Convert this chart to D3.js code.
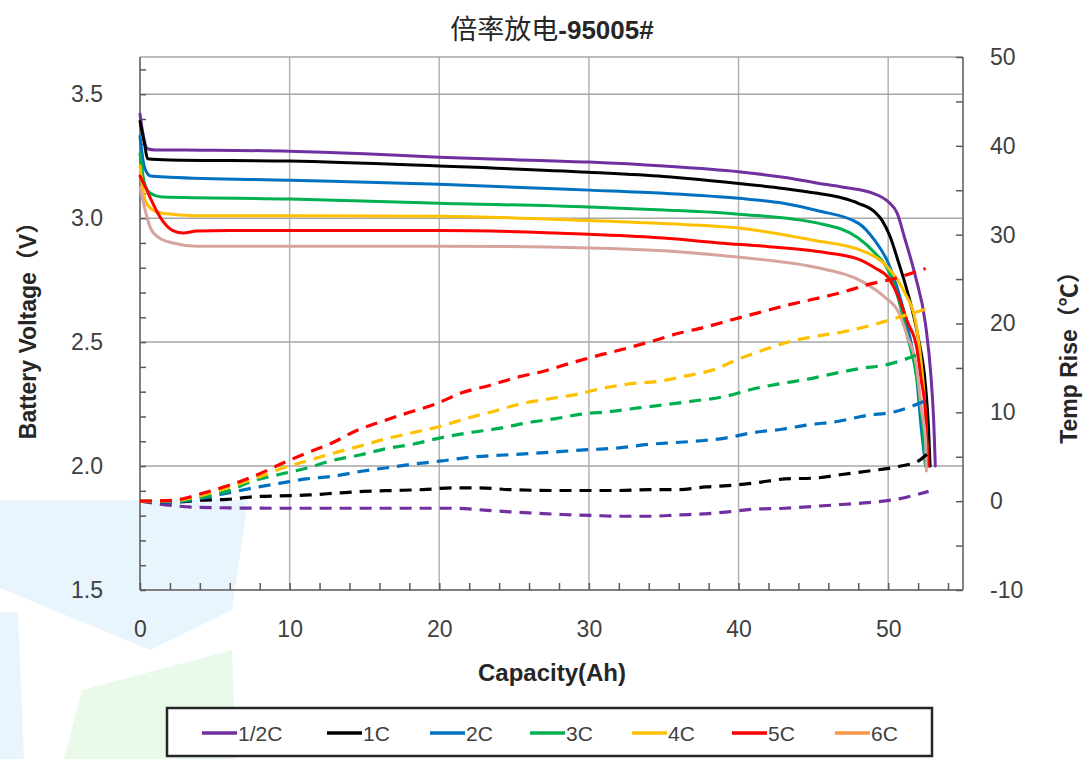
<!DOCTYPE html>
<html><head><meta charset="utf-8">
<script src="https://cdn.jsdelivr.net/npm/d3@7"></script>
<style>
body{margin:0;background:#fff}
svg{display:block}
text{font-family:"Liberation Sans","Noto Sans CJK SC",sans-serif}
</style>
</head><body>
<svg id="chart" width="1087" height="759"></svg>
<script>
// ---------- data ----------
const seriesNames = ["1/2C","1C","2C","3C","4C","5C","6C"];
const lineColors   = ["#7030A0","#000000","#0070C0","#00B050","#FFC000","#FF0000","#D8A39E"];
const legendColors = ["#7030A0","#000000","#0070C0","#00B050","#FFC000","#FF0000","#F79646"];
const xTicks = [0,10,20,30,40,50];
const vTicks = [1.5,2.0,2.5,3.0,3.5];
const tTicks = [-10,0,10,20,30,40,50];

// voltage curves [capacity Ah, voltage V]
const volt_05C = [[0,3.42],[0.2,3.34],[0.5,3.28],[1,3.275],[5,3.274],[10,3.27],[15,3.26],[20,3.246],[25,3.236],[30,3.226],[35,3.21],[40,3.187],[43,3.165],[45.3,3.141],[47,3.125],[49,3.10],[50,3.066],[50.6,3.02],[51.1,2.92],[51.8,2.77],[52.5,2.57],[52.85,2.37],[53.05,2.17],[53.15,2.0]];
const volt_1C  = [[0,3.39],[0.3,3.30],[0.5,3.24],[2,3.235],[10,3.23],[20,3.21],[30,3.185],[35,3.168],[40,3.14],[43,3.12],[45.3,3.10],[47,3.08],[48,3.06],[49.1,3.025],[49.6,2.99],[50.1,2.93],[50.7,2.82],[51.3,2.70],[52,2.52],[52.5,2.32],[52.7,2.15],[52.8,2.0]];
const volt_2C  = [[0,3.33],[0.3,3.205],[0.7,3.17],[2,3.165],[10,3.153],[20,3.137],[30,3.113],[35,3.10],[40,3.08],[43,3.06],[45.3,3.03],[48,2.98],[49.1,2.91],[50,2.82],[50.7,2.70],[51.3,2.56],[51.9,2.36],[52.2,2.16],[52.5,2.0]];
const volt_3C  = [[0,3.26],[0.3,3.14],[0.7,3.10],[1.5,3.085],[10,3.077],[20,3.06],[30,3.045],[35,3.033],[40,3.016],[45.3,2.98],[48,2.92],[49.1,2.86],[50,2.79],[50.7,2.67],[51.3,2.52],[51.9,2.36],[52.3,2.16],[52.5,2.0]];
const volt_4C  = [[0,3.21],[0.3,3.08],[0.7,3.04],[1.5,3.02],[3.8,3.01],[10,3.01],[20,3.008],[30,2.99],[35,2.978],[40,2.96],[45.1,2.91],[48.2,2.87],[50,2.80],[51.1,2.70],[51.8,2.59],[52.2,2.42],[52.5,2.20],[52.65,2.0]];
const volt_5C  = [[0,3.17],[0.4,3.12],[0.7,3.08],[1.1,3.03],[1.5,2.99],[2.2,2.95],[2.9,2.94],[3.8,2.948],[6,2.95],[10,2.95],[20,2.95],[30,2.935],[35,2.92],[38.7,2.90],[42,2.885],[45.3,2.865],[48,2.835],[49.1,2.80],[50,2.76],[50.7,2.68],[51.3,2.58],[51.9,2.48],[52.2,2.35],[52.5,2.21],[52.6,2.08],[52.7,2.0]];
const volt_6C  = [[0,3.125],[0.2,3.07],[0.7,2.96],[1.3,2.92],[2.2,2.90],[3.8,2.887],[10,2.887],[20,2.887],[30,2.88],[35,2.868],[38.7,2.85],[42,2.83],[45.3,2.80],[48.4,2.74],[49.8,2.68],[50.7,2.62],[51.3,2.52],[51.9,2.40],[52.2,2.24],[52.5,2.10],[52.55,1.98]];

// temperature rise curves [capacity Ah, °C]
const temp_05C = [[0,0],[2.2,-0.5],[4,-0.7],[9.3,-0.8],[13,-0.8],[19,-0.8],[21,-0.8],[23,-1.0],[24.7,-1.2],[26.4,-1.35],[28.2,-1.5],[30.2,-1.6],[32,-1.7],[34,-1.7],[36,-1.55],[38,-1.4],[39.3,-1.2],[41.1,-0.9],[43.1,-0.8],[44.9,-0.6],[46.7,-0.4],[48.4,-0.2],[50.5,0.2],[52.7,1.1]];
const temp_1C  = [[0,0],[2.2,-0.1],[4,0.1],[5.8,0.2],[7.6,0.5],[9.3,0.6],[11.3,0.7],[13.1,0.9],[14.9,1.1],[16.9,1.2],[18.9,1.3],[20.9,1.5],[22.7,1.5],[24.7,1.3],[28,1.2],[32,1.2],[34,1.3],[36,1.3],[37.8,1.6],[39.3,1.75],[41.3,2.1],[43.1,2.5],[45.1,2.6],[46.9,3.0],[48.7,3.4],[50.7,3.9],[52,4.5],[52.6,5.3]];
const temp_2C  = [[0,0],[2.2,-0.1],[4,0.3],[5.8,0.9],[7.6,1.5],[9.3,2.0],[11.1,2.5],[12.9,2.8],[14.9,3.4],[16.7,3.8],[18.4,4.2],[20,4.5],[22.4,5.0],[24.4,5.2],[26.4,5.4],[28.2,5.6],[30,5.8],[32,6.0],[34,6.4],[35.8,6.6],[37.5,6.8],[39.1,7.1],[40.9,7.7],[42.9,8.1],[44.7,8.6],[46.7,9.0],[48.4,9.6],[50.5,10.1],[52.5,11.3]];
const temp_3C  = [[0,0],[2.2,0],[4,0.4],[5.8,1.1],[7.6,2.3],[9.3,3.0],[11.1,3.7],[12.9,4.6],[14.7,5.2],[16.4,5.9],[18.2,6.4],[20,7.1],[22,7.7],[24,8.2],[25.8,8.8],[27.8,9.3],[29.5,9.8],[31.5,10.1],[33.3,10.5],[35.3,10.9],[37.1,11.3],[39,11.75],[40.9,12.6],[42.7,13.2],[44.5,13.7],[46.2,14.3],[48,14.9],[50,15.4],[52,16.5]];
const temp_4C  = [[0,0],[2.2,0.05],[4,0.6],[5.8,1.5],[7.6,2.5],[9.3,3.6],[11.1,4.5],[12.9,5.4],[14.7,6.2],[16.4,7.0],[18.2,7.7],[20,8.4],[21.8,9.3],[23.6,10.1],[25.3,10.9],[27.3,11.5],[29.1,12.0],[30.9,12.7],[32.7,13.2],[34.7,13.5],[36.5,14.1],[38.5,14.9],[40,16.0],[41.8,17.1],[43.5,18.0],[45.3,18.6],[47.1,19.1],[49.1,19.9],[50.9,20.8],[52.5,21.6]];
const temp_5C  = [[0,0],[2.2,0.1],[4,0.8],[5.8,1.7],[7.6,2.8],[9.3,4.1],[11.1,5.4],[12.9,6.6],[14.4,7.9],[16.2,9.0],[18,10.0],[19.7,10.9],[21.5,12.2],[23.3,13.0],[25.1,13.9],[26.9,14.6],[28.9,15.6],[30.4,16.3],[32.5,17.2],[34.2,18.0],[36,18.9],[37.8,19.6],[39.3,20.3],[41.3,21.2],[43.1,22.0],[44.9,22.7],[46.7,23.4],[48.7,24.4],[50.5,25.1],[52.5,26.2]];

const voltSeries = [volt_05C,volt_1C,volt_2C,volt_3C,volt_4C,volt_5C,volt_6C];
const tempSeries = [temp_05C,temp_1C,temp_2C,temp_3C,temp_4C,temp_5C];

// ---------- layout ----------
const L = 140, R = 963, T = 57, B = 590;
const svg = d3.select("#chart");
const x  = d3.scaleLinear().domain([0,55]).range([L,R]);
const yV = d3.scaleLinear().domain([1.5,3.65]).range([B,T]);
const yT = d3.scaleLinear().domain([-10,50]).range([B,T]);

// faint background watermark shapes
svg.append("polygon").attr("points","0,500 248,500 232,610 150,650 0,588").attr("fill","#e8f5fc");
svg.append("polygon").attr("points","0,612 18,612 24,759 0,759").attr("fill","#e8f5fc");
svg.append("polygon").attr("points","82,690 232,650 236,759 64,759").attr("fill","#eafaea");

// gridlines
svg.append("g").selectAll("line").data(xTicks.slice(1)).join("line")
  .attr("x1",d=>x(d)).attr("x2",d=>x(d)).attr("y1",T).attr("y2",B)
  .attr("stroke","#b3b3b3").attr("stroke-width",1.5);
svg.append("g").selectAll("line").data(vTicks.slice(1)).join("line")
  .attr("x1",L).attr("x2",R).attr("y1",d=>yV(d)).attr("y2",d=>yV(d))
  .attr("stroke","#a6a6a6").attr("stroke-width",1.5);

// frame
svg.append("line").attr("x1",L).attr("x2",R).attr("y1",T).attr("y2",T).attr("stroke","#a6a6a6").attr("stroke-width",1.5);
svg.append("line").attr("x1",R).attr("x2",R).attr("y1",T).attr("y2",B).attr("stroke","#808080").attr("stroke-width",2);
svg.append("line").attr("x1",L).attr("x2",L).attr("y1",T).attr("y2",B).attr("stroke","#7f7f7f").attr("stroke-width",2);
svg.append("line").attr("x1",L).attr("x2",R).attr("y1",B).attr("y2",B).attr("stroke","#7f7f7f").attr("stroke-width",2);

// minor ticks (inside)
const styleTicks = g => { g.select(".domain").remove(); g.selectAll(".tick line").attr("stroke","#595959").attr("stroke-width",1.5); g.selectAll(".tick text").remove(); };
svg.append("g").attr("transform",`translate(${L},0)`)
  .call(d3.axisRight(yV).tickValues(d3.range(15,37,1).map(d=>d/10)).tickSize(6)).call(styleTicks);
svg.append("g").attr("transform",`translate(${R},0)`)
  .call(d3.axisLeft(yT).tickValues(d3.range(-10,51,5)).tickSize(7)).call(styleTicks);
svg.append("g").attr("transform",`translate(0,${B})`)
  .call(d3.axisTop(x).tickValues(d3.range(0,56,2)).tickSize(7)).call(styleTicks);

// tick labels
const labelStyle = g => { g.select(".domain").remove(); g.selectAll(".tick line").remove();
  g.selectAll(".tick text").attr("fill","#404040").style("font-size","23px").style("font-family",'"Liberation Sans",sans-serif'); };
svg.append("g").attr("transform",`translate(${L},0)`)
  .call(d3.axisLeft(yV).tickValues(vTicks).tickFormat(d3.format(".1f")).tickSize(0).tickPadding(37)).call(labelStyle);
svg.append("g").attr("transform",`translate(${R},0)`)
  .call(d3.axisRight(yT).tickValues(tTicks).tickFormat(d => String(d)).tickSize(0).tickPadding(27)).call(labelStyle);
svg.append("g").attr("transform",`translate(0,${B})`)
  .call(d3.axisBottom(x).tickValues(xTicks).tickFormat(d => String(d)).tickSize(0).tickPadding(31)).call(labelStyle);

// lines
const lineV = d3.line().x(d=>x(d[0])).y(d=>yV(d[1])).curve(d3.curveMonotoneX);
const lineT = d3.line().x(d=>x(d[0])).y(d=>yT(d[1])).curve(d3.curveMonotoneX);
svg.append("g").selectAll("path").data(voltSeries).join("path")
  .attr("d",lineV).attr("fill","none").attr("stroke",(d,i)=>lineColors[i])
  .attr("stroke-width",3).attr("stroke-linejoin","round").attr("stroke-linecap","round");
svg.append("g").selectAll("path").data(tempSeries).join("path")
  .attr("d",lineT).attr("fill","none").attr("stroke",(d,i)=>lineColors[i])
  .attr("stroke-width",3.2).attr("stroke-dasharray","12,8");

// titles
const title = svg.append("text").attr("x",552).attr("y",39).attr("text-anchor","middle").attr("fill","#262626");
title.append("tspan").text("倍率放电").style("font-family",'"Noto Sans CJK SC",sans-serif').style("font-size","27px").style("font-weight","400");
title.append("tspan").text("-95005#").style("font-size","26px").style("font-weight","bold");

svg.append("text").attr("transform","translate(36,325) rotate(-90)").attr("text-anchor","middle")
  .attr("fill","#262626").style("font-size","23px").style("font-weight","bold").text("Battery Voltage（V）");
svg.append("text").attr("transform","translate(1077,352) rotate(-90)").attr("text-anchor","middle")
  .attr("fill","#262626").style("font-size","23px").style("font-weight","bold").text("Temp Rise（℃）");
svg.append("text").attr("x",552).attr("y",681).attr("text-anchor","middle")
  .attr("fill","#262626").style("font-size","24px").style("font-weight","bold").text("Capacity(Ah)");

// legend
svg.append("rect").attr("x",167).attr("y",708).attr("width",765).attr("height",48)
  .attr("fill","#fff").attr("stroke","#262626").attr("stroke-width",2.5);
const legX = [202,327,430,530,632,732,835];
const lg = svg.append("g").selectAll("g").data(seriesNames).join("g")
  .attr("transform",(d,i)=>`translate(${legX[i]},733)`);
lg.append("line").attr("x1",0).attr("x2",35).attr("stroke",(d,i)=>legendColors[i]).attr("stroke-width",3.5);
lg.append("text").attr("x",36).attr("y",8).attr("fill","#404040").style("font-size","21px").text(d=>d);
</script>
</body></html>
